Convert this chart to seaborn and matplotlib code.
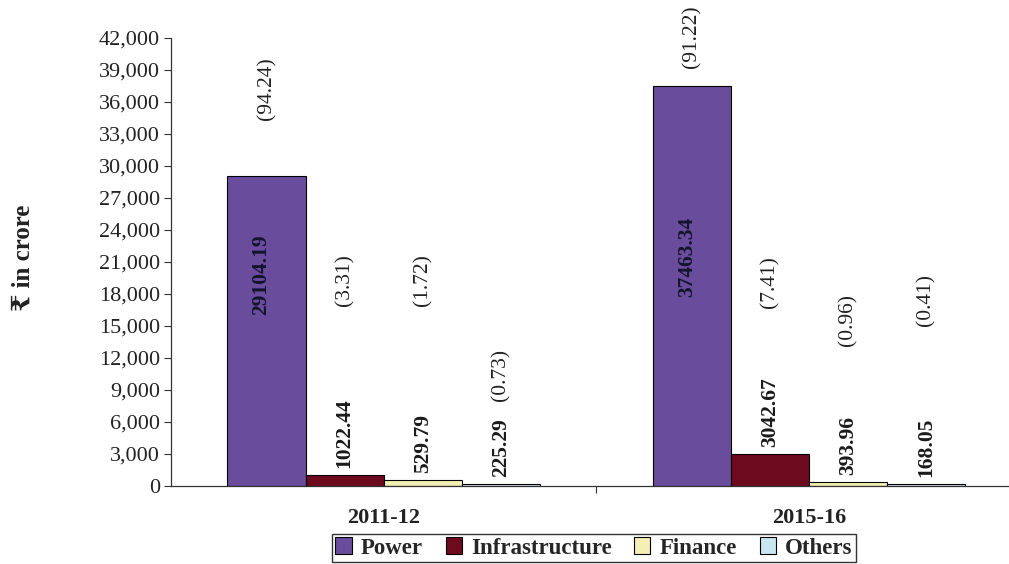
import matplotlib
matplotlib.use("Agg")
import matplotlib.pyplot as plt
import seaborn as sns
import pandas as pd
from matplotlib.ticker import FuncFormatter, MultipleLocator, FixedLocator

# Data
years = ["2011-12", "2015-16"]
sectors = ["Power", "Infrastructure", "Finance", "Others"]
values_2011 = [29104.19, 1022.44, 529.79, 225.29]
values_2015 = [37463.34, 3042.67, 393.96, 168.05]
shares_2011 = ["(94.24)", "(3.31)", "(1.72)", "(0.73)"]
shares_2015 = ["(91.22)", "(7.41)", "(0.96)", "(0.41)"]
y_label = "₹ in crore"

colors = ["#6a4c9c", "#6e0a1e", "#f4efb4", "#c9e5f0"]

rows = []
for yr, vals in zip(years, [values_2011, values_2015]):
    for s, v in zip(sectors, vals):
        rows.append({"year": yr, "sector": s, "value": v})
df = pd.DataFrame(rows)

sns.set_theme(style="white")
serif = ["Liberation Serif", "DejaVu Serif", "DejaVu Sans"]
plt.rcParams["font.family"] = serif

fig = plt.figure(figsize=(10.09, 5.64), dpi=100)
ax = fig.add_axes([171 / 1009, 1 - 486 / 564, 1 - 171 / 1009, (486 - 38) / 564])

sns.barplot(data=df, x="year", y="value", hue="sector", hue_order=sectors,
            palette=colors, edgecolor="black", linewidth=0.8, width=0.735,
            saturation=1, ax=ax, legend=True)

ax.set_xlim(-0.5, 1.47)
ax.set_ylim(0, 42000)
ax.yaxis.set_major_locator(MultipleLocator(3000))
ax.yaxis.set_major_formatter(FuncFormatter(lambda v, p: f"{int(v):,}"))
ax.tick_params(axis="y", which="major", direction="out", length=5, width=0.8,
               color="#333333", labelsize=16, labelcolor="#222222", pad=3, left=True)
ax.xaxis.set_major_locator(FixedLocator([0, 1]))
ax.set_xticklabels(years, fontweight="bold", fontsize=16, color="#222222")
ax.tick_params(axis="x", which="major", length=0, pad=16)
ax.xaxis.set_minor_locator(FixedLocator([0.5]))
ax.tick_params(axis="x", which="minor", direction="out", length=5, width=0.8, color="#333333", bottom=True)
ax.set_xlabel("")
ax.set_ylabel(y_label, fontsize=18, fontweight="bold", color="#222222", family=serif)
ax.yaxis.set_label_coords(-0.163, 0.51)

for side in ["top", "right"]:
    ax.spines[side].set_visible(False)
for side in ["left", "bottom"]:
    ax.spines[side].set_color("#333333")
    ax.spines[side].set_linewidth(0.9)

# Label placement (y positions of the bracketed shares and in-bar values)
share_y = [[37300, 19300, 19300, 10400], [42100, 19100, 15560, 17440]]
inside_y = [19780, 21470]

value_lists = [values_2011, values_2015]
share_lists = [shares_2011, shares_2015]
for h, cont in enumerate(ax.containers):
    for g, bar in enumerate(cont):
        xc = bar.get_x() + bar.get_width() / 2
        val = value_lists[g][h]
        if h == 0:
            ax.text(xc - 0.012, inside_y[g], f"{val:.2f}", rotation=90, ha="center", va="center",
                    fontsize=15.5, fontweight="bold", color="#14142e")
        else:
            ax.annotate(f"{val:.2f}", (xc, val), xytext=(0, 5), textcoords="offset points",
                        rotation=90, ha="center", va="bottom", fontsize=15.5,
                        fontweight="bold", color="#1a1a1a")
        ax.text(xc, share_y[g][h], share_lists[g][h], rotation=90, ha="center", va="center",
                fontsize=15.5, color="#222222", clip_on=False)

handles, labels = ax.get_legend_handles_labels()
ax.get_legend().remove()
leg = fig.legend(handles, labels, loc="center", bbox_to_anchor=(594 / 1009, 1 - 548 / 564),
                 ncol=4, frameon=True, fancybox=False, edgecolor="black",
                 prop={"family": serif, "weight": "bold", "size": 16.5},
                 handlelength=0.7, handleheight=0.7, handletextpad=0.4, columnspacing=1.0,
                 borderpad=0.15, borderaxespad=0)
leg.get_frame().set_linewidth(1.0)

fig.savefig("out.png", dpi=100)
